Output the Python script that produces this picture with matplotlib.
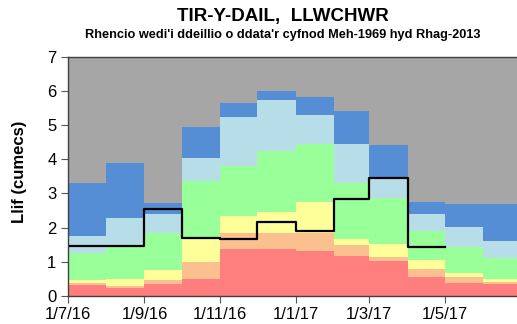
import datetime
import matplotlib
matplotlib.use('Agg')
import matplotlib.pyplot as plt
import matplotlib.dates as mdates
from matplotlib.ticker import FuncFormatter

plt.rcParams['font.family'] = ['Liberation Sans', 'DejaVu Sans']

# month starts Jul 2016 .. Jun 2017
months = [datetime.date(2016 + (6 + i) // 12, (6 + i) % 12 + 1, 1) for i in range(12)]
edges = months + [datetime.date(2017, 7, 1)]

# cumulative band tops (cumecs), bottom to top
red_top = [0.32, 0.23, 0.34, 0.49, 1.39, 1.37, 1.32, 1.17, 1.02, 0.57, 0.38, 0.35]
orange_top = [0.39, 0.30, 0.47, 1.00, 1.84, 1.85, 1.83, 1.48, 1.13, 0.78, 0.56, 0.42]
yellow_top = [0.47, 0.51, 0.76, 1.73, 2.34, 2.46, 2.76, 1.66, 1.51, 1.05, 0.67, 0.51]
green_top = [1.25, 1.42, 1.85, 3.38, 3.81, 4.24, 4.46, 3.32, 2.87, 1.89, 1.44, 1.12]
lblue_top = [1.76, 2.27, 2.39, 4.03, 5.23, 5.73, 5.30, 4.44, 3.45, 2.39, 2.01, 1.61]
blue_top = [3.32, 3.90, 2.71, 4.95, 5.66, 6.00, 5.83, 5.42, 4.42, 2.76, 2.69, 2.69]
gray_top = [7] * 12

# monthly mean flow for the current year (Jul 2016 - Apr 2017)
flow = [1.47, 1.47, 2.54, 1.71, 1.66, 2.16, 1.90, 2.83, 3.45, 1.44]

bands = [
    (red_top, '#FF7F7F'),
    (orange_top, '#FAC090'),
    (yellow_top, '#FFFF99'),
    (green_top, '#99FF99'),
    (lblue_top, '#B7DEE8'),
    (blue_top, '#558ED5'),
    (gray_top, '#A6A6A6'),
]

fig = plt.figure(figsize=(5.17, 3.24), dpi=100)
ax = fig.add_axes([67.5 / 517, 28 / 324, (517 - 67.5) / 517, (296 - 56.8) / 324])

lower = [0] * 13
for top, col in bands:
    upper = top + [top[-1]]
    ax.fill_between(edges, lower, upper, step='post', color=col, lw=0)
    lower = upper

ax.step(edges[:len(flow) + 1], flow + [flow[-1]], where='post', color='black', lw=1.6)

ax.set_ylim(0, 7)
ax.set_xlim(edges[0], datetime.date(2017, 6, 28))
ax.set_yticks(range(8))
ax.xaxis.set_major_locator(mdates.MonthLocator(bymonth=[1, 3, 5, 7, 9, 11]))
ax.xaxis.set_major_formatter(FuncFormatter(
    lambda v, p: '{d.day}/{d.month}/{y}'.format(d=mdates.num2date(v), y=mdates.num2date(v).year % 100)))

ax.tick_params(direction='out', length=5, color='#555555', labelsize=12, pad=3)
for side in ['left', 'bottom', 'top']:
    ax.spines[side].set_color('#404040')
    ax.spines[side].set_linewidth(1.0)
ax.spines['right'].set_visible(False)

fig.text(0.547, 1 - 17 / 324, 'TIR-Y-DAIL,  LLWCHWR', ha='center', va='center',
         fontsize=13.5, fontweight='bold')
fig.text(0.547, 1 - 35 / 324, "Rhencio wedi'i ddeillio o ddata'r cyfnod Meh-1969 hyd Rhag-2013",
         ha='center', va='center', fontsize=9.2, fontweight='bold')
fig.text(20 / 517, 1 - 172 / 324, 'Llif (cumecs)', rotation=90, ha='center', va='center',
         fontsize=12, fontweight='bold')

fig.savefig('out.png', dpi=100)
